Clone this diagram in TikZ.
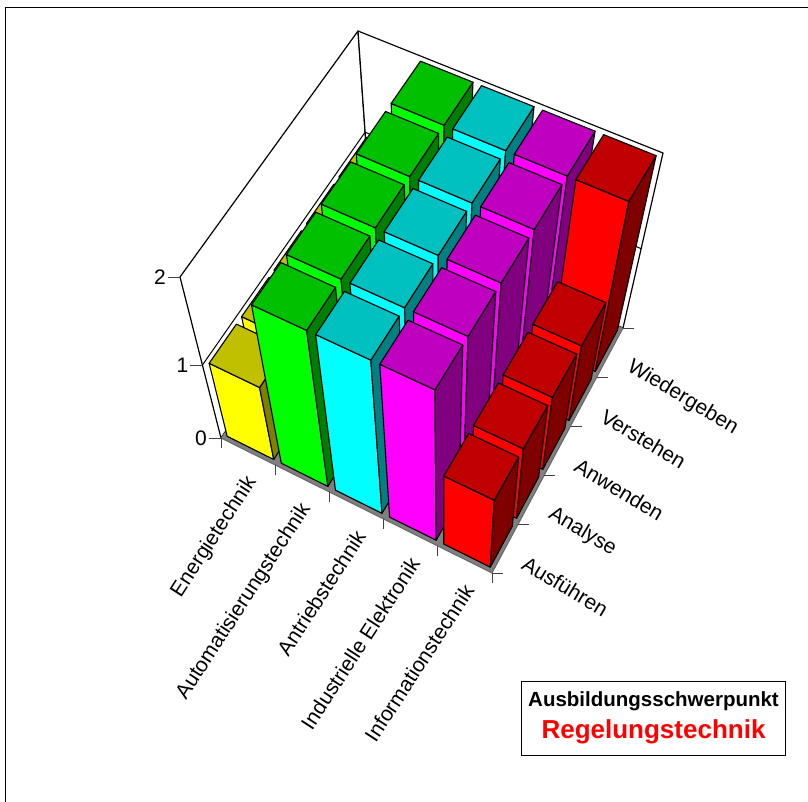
\documentclass[tikz,border=0pt]{standalone}
\usepackage{fontspec}
\setmainfont{Liberation Sans}
\definecolor{yF}{HTML}{FFFF00}\definecolor{yT}{HTML}{C0C000}\definecolor{yS}{HTML}{808000}
\definecolor{gF}{HTML}{00FF00}\definecolor{gT}{HTML}{00C000}\definecolor{gS}{HTML}{008000}
\definecolor{cF}{HTML}{00FFFF}\definecolor{cT}{HTML}{00C0C0}\definecolor{cS}{HTML}{008080}
\definecolor{mF}{HTML}{FF00FF}\definecolor{mT}{HTML}{C000C0}\definecolor{mS}{HTML}{800080}
\definecolor{rF}{HTML}{FF0000}\definecolor{rT}{HTML}{C00000}\definecolor{rS}{HTML}{800000}
\definecolor{floorgray}{HTML}{808080}
\newcommand\mkpt[4]{%
  \pgfmathsetmacro\pX{(#2)/5}%
  \pgfmathsetmacro\pY{(#3)/5}%
  \pgfmathsetmacro\pT{0.4145*(#4)/(1-0.0855*(#4))}%
  \pgfmathsetmacro\pu{(221+271*\pX+150*\pY-19*\pX*\pY)*(1-\pT)+(180+321*\pX+178*\pY-16*\pX*\pY)*\pT}%
  \pgfmathsetmacro\pv{(438+135*\pX-222*\pY-23*\pX*\pY)*(1-\pT)+(277+149*\pX-246*\pY-27*\pX*\pY)*\pT}%
  \coordinate (#1) at (\pu,\pv);%
}
\newcommand\drawbar[6]{%
  \mkpt{f0}{#1+0.07}{#2+0.08}{0}%
  \mkpt{f1}{#1+0.93}{#2+0.08}{0}%
  \mkpt{f2}{#1+0.93}{#2+0.08}{#3}%
  \mkpt{f3}{#1+0.07}{#2+0.08}{#3}%
  \mkpt{k1}{#1+0.93}{#2+0.92}{0}%
  \mkpt{k2}{#1+0.93}{#2+0.92}{#3}%
  \mkpt{k3}{#1+0.07}{#2+0.92}{#3}%
  \draw[barline, fill=#4] (f0)--(f1)--(f2)--(f3)--cycle;
  \draw[barline, fill=#6] (f1)--(k1)--(k2)--(f2)--cycle;
  \draw[barline, fill=#5] (f3)--(f2)--(k2)--(k3)--cycle;
}
\begin{document}
\begin{tikzpicture}[x=1pt,y=-1pt,
  barline/.style={draw=black, line width=1.1pt, line join=round},
  wall/.style={draw=black, line width=1.2pt, fill=white, line join=round},
  gridl/.style={draw=black, line width=1pt},
  tickline/.style={draw=black!75, line width=1pt},
  lab/.style={font=\fontsize{21}{25}\selectfont, inner sep=0pt},
]
\useasboundingbox (0,0) rectangle (808,802);
\fill[white] (0,0) rectangle (808,802);
\draw[line width=1pt] (5,802) -- (5,8) -- (808,8);
% box corners
\mkpt{A}{0}{0}{0}\mkpt{B}{5}{0}{0}\mkpt{C}{5}{5}{0}\mkpt{D}{0}{5}{0}
\mkpt{A1}{0}{0}{1}\mkpt{C1}{5}{5}{1}\mkpt{D1}{0}{5}{1}
\mkpt{A2}{0}{0}{2}\mkpt{C2}{5}{5}{2}\mkpt{D2}{0}{5}{2}
\draw[wall] (A)--(D)--(D2)--(A2)--cycle;
\draw[wall] (D)--(C)--(C2)--(D2)--cycle;
\draw[gridl] (A1)--(D1)--(C1);
\fill[floorgray] (A)--(B)--(C)--(D)--cycle;
\draw[black!60, line width=1pt] (A)--(B)--(C);
% ticks
\foreach \i in {0,...,5} {\mkpt{tx}{\i}{0}{0}\draw[tickline] (tx) -- ++(0,10);}
\foreach \j in {0,...,5} {\mkpt{ty}{5}{\j}{0}\draw[tickline] (ty) -- ++(11,0);}
\foreach \z in {0,1,2} {\mkpt{tz}{0}{0}{\z}\draw[tickline] (tz) -- ++(-12,0) coordinate (tze);
  \node[lab, anchor=east, font=\fontsize{21}{24}\selectfont] (num\z) at ([xshift=-2pt]tze) {\z};}
% bars
\foreach \j in {4,3,2,1,0} {
  \drawbar{0}{\j}{1}{yF}{yT}{yS}
  \drawbar{1}{\j}{2}{gF}{gT}{gS}
  \drawbar{2}{\j}{2}{cF}{cT}{cS}
  \drawbar{3}{\j}{2}{mF}{mT}{mS}
  \pgfmathsetmacro\rh{\j==4 ? 2 : 1}
  \drawbar{4}{\j}{\rh}{rF}{rT}{rS}
}
% labels
\foreach \i/\txt in {0/Energietechnik, 1/Automatisierungstechnik, 2/Antriebstechnik, 3/Industrielle Elektronik, 4/Informationstechnik} {
  \mkpt{cc}{\i+0.5}{0}{0}
  \node[lab, anchor=east, rotate=57] (col\i) at ([shift={(4,27)}]cc) {\txt};
}
\foreach \j/\txt in {0/Ausführen, 1/Analyse, 2/Anwenden, 3/Verstehen, 4/Wiedergeben} {
  \mkpt{rc}{5}{\j+0.5}{0}
  \node[lab, anchor=west, rotate=-31] (row\j) at ([shift={(19,13)}]rc) {\txt};
}
% title box
\node[draw=black, line width=1pt, fill=white, minimum width=264pt, minimum height=74pt, inner sep=0pt] (tbox) at (653,718) {};
\node[anchor=base, inner sep=0pt, font=\bfseries\fontsize{20.5}{24}\selectfont] (t1) at (653.5,706) {Ausbildungsschwerpunkt};
\node[anchor=base, inner sep=0pt, text=red, font=\bfseries\fontsize{26}{30}\selectfont] (t2) at (653.5,738) {Regelungstechnik};
\end{tikzpicture}
\end{document}
